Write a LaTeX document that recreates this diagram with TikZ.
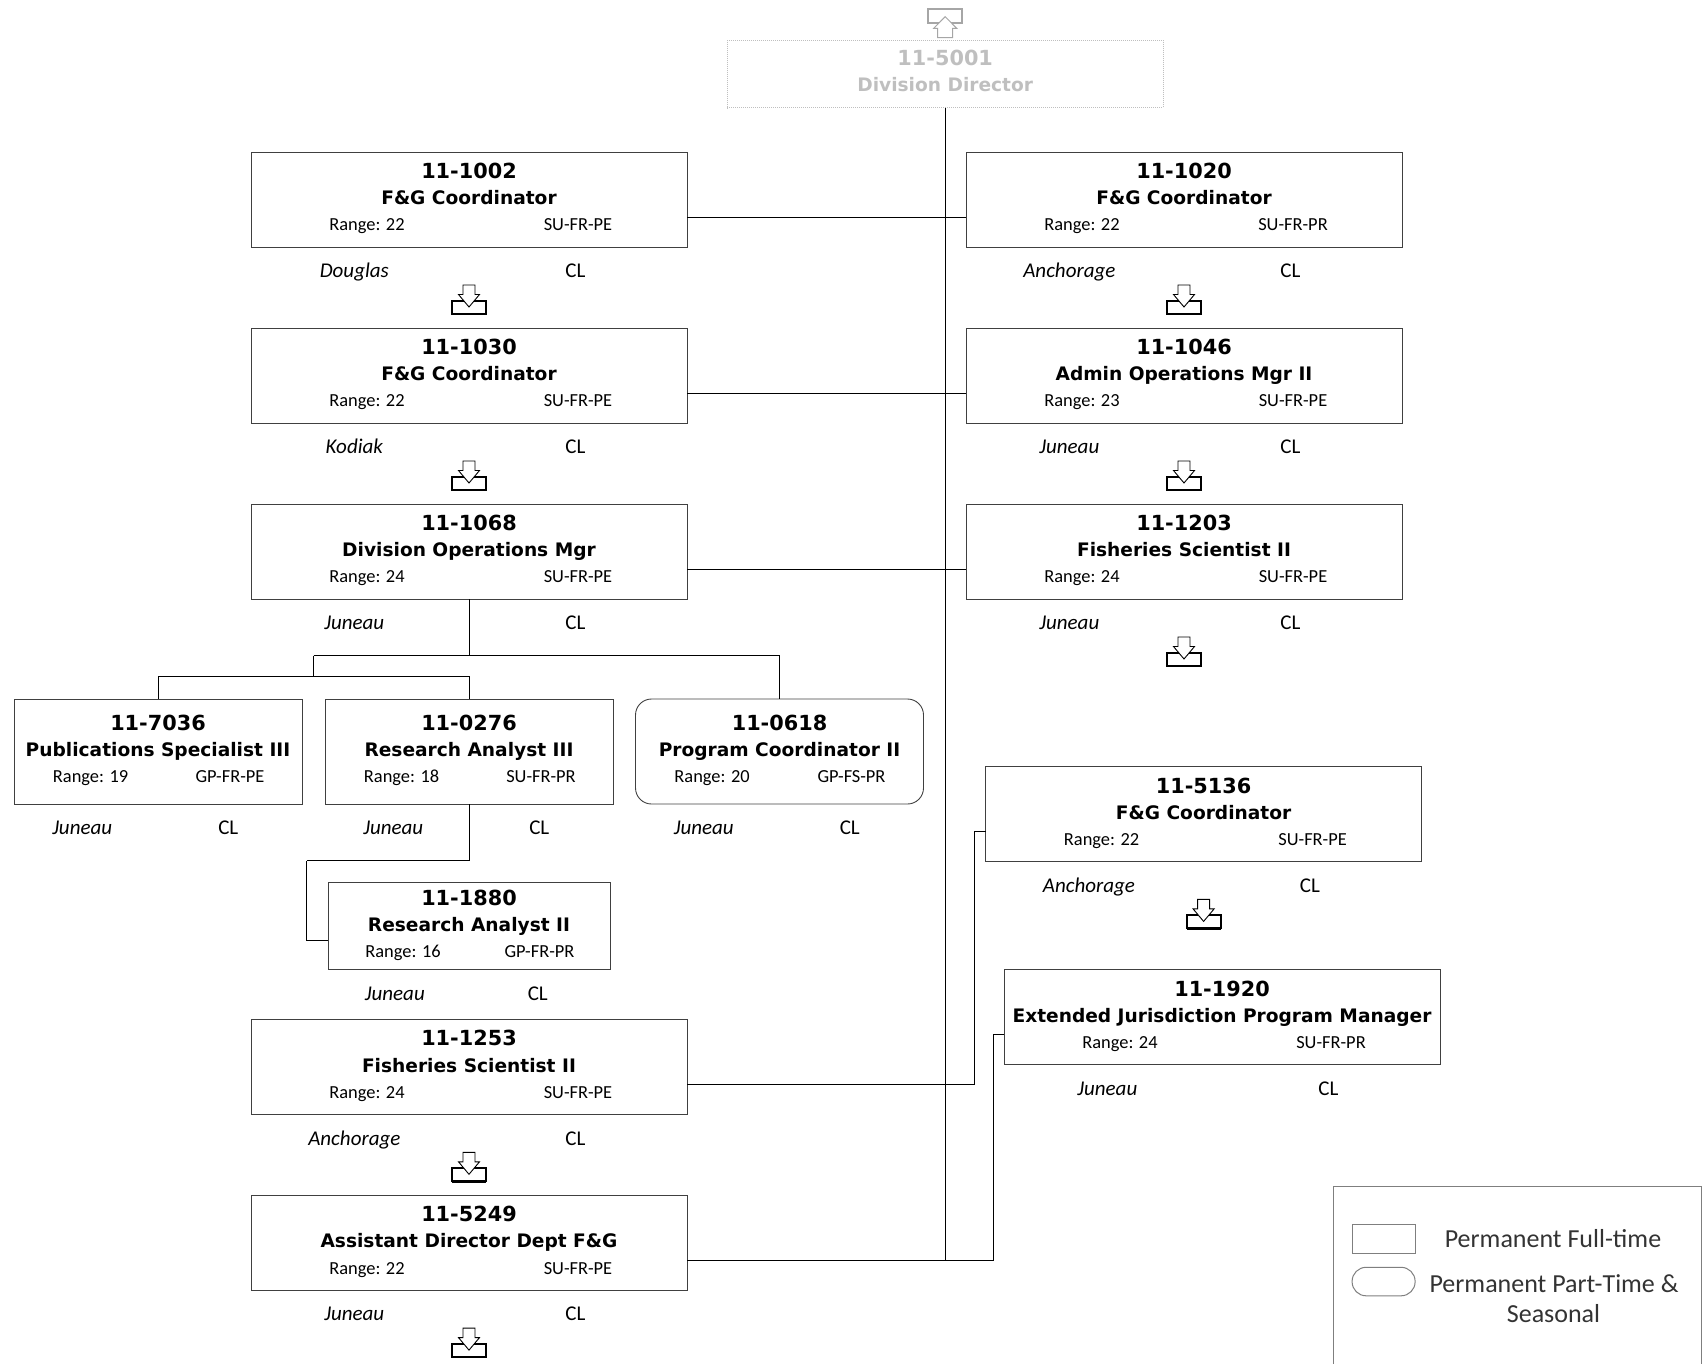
\documentclass[tikz,border=0pt]{standalone}
\usepackage{fontspec}
\setmainfont{Carlito}
\newfontfamily\dvs{DejaVu Sans}
\usetikzlibrary{calc}
\definecolor{boxgray}{HTML}{404040}
\definecolor{dirgray}{HTML}{BFBFBF}
\definecolor{icongray}{HTML}{A6A6A6}
\definecolor{leggray}{HTML}{7F7F7F}
\definecolor{legtext}{HTML}{333333}
\tikzset{
 pbox/.style={draw=boxgray, line width=0.9pt, minimum width=436pt, minimum height=95pt, inner sep=0pt, outer sep=0pt},
 sbox/.style={pbox, minimum width=288pt, minimum height=105pt},
 rbox/.style={sbox, rounded corners=16pt},
 tbox/.style={pbox, minimum width=282pt, minimum height=87pt},
 conn/.style={draw=black, line width=0.9pt},
 numtxt/.style={font=\dvs\bfseries\fontsize{20.8}{24}\selectfont, inner sep=0pt, text height=15.2pt, text depth=0pt},
 nametxt/.style={font=\dvs\bfseries\fontsize{18.6}{22}\selectfont, inner sep=0pt, text height=13.6pt, text depth=0pt},
 rangetxt/.style={font=\fontsize{18.4}{22}\selectfont, inner sep=0pt, text height=11.9pt, text depth=0pt},
 loctxt/.style={font=\itshape\fontsize{21}{25}\selectfont, inner sep=0pt, text height=13.5pt, text depth=0pt},
 cltxt/.style={font=\fontsize{21}{25}\selectfont, inner sep=0pt, text height=13.5pt, text depth=0pt},
 legtxt/.style={font=\fontsize{26}{31}\selectfont, text=legtext, inner sep=0pt, text height=16.7pt, text depth=0pt},
 downicon/.pic={
  \draw[line width=2pt] (-17,16) rectangle (17,29);
  \draw[line width=2.6pt] (-17,29) -- (17,29);
  \draw[line width=0.9pt, fill=white] (-6,0) -- (6,0) -- (6,9.5) -- (10.5,9.5) -- (0,22) -- (-10.5,9.5) -- (-6,9.5) -- cycle;
 },
 upicon/.pic={
  \draw[icongray, line width=2pt] (-17,0) rectangle (17,14);
  \draw[icongray, line width=1pt, fill=white] (-7.5,28.4) -- (7.5,28.4) -- (7.5,19) -- (11.5,19) -- (0,7.4) -- (-11.5,19) -- (-7.5,19) -- cycle;
 }
}
\newcommand\orgbox[5]{%
 \node[#2, anchor=north west] (#1) at (#3) {};
 \node[numtxt] (#1-n) at ($(#1.center)+(0,-28.5)$) {#4};
 \node[nametxt] (#1-t) at ($(#1.center)+(0,-1.5)$) {#5};}
\newcommand\orginfo[5]{%
 \node[rangetxt] (#1-r) at ($(#1.west)!0.266!(#1.east)+(0,25.5)$) {#2};
 \node[rangetxt] (#1-c) at ($(#1.west)!0.75!(#1.east)+(0,25.5)$) {#3};
 \node[loctxt] (#1-l) at ($(#1.south west)!0.237!(#1.south east)+(0,24)$) {#4};
 \node[cltxt] (#1-k) at ($(#1.south west)!0.744!(#1.south east)+(0,24)$) {#5};}
\newcommand\orgarrow[1]{\pic at ($(#1.south)+(0,38)$) {downicon};}
\begin{document}
\begin{tikzpicture}[x=1pt,y=-1pt]
\useasboundingbox (0,0) rectangle (1702,1364);
% director
\node[draw=dirgray, dash pattern=on 1pt off 1pt, line width=0.8pt, minimum width=435.6pt, minimum height=67.5pt, inner sep=0pt, anchor=north west] (dir) at (727,40) {};
\node[numtxt, text=dirgray] (dir-n) at ($(dir.center)+(0,-16.2)$) {11-5001};
\node[nametxt, text=dirgray] (dir-t) at ($(dir.center)+(0,11)$) {Division Director};
\pic at ($(dir.north)+(0,-30.7)$) {upicon};
% left column
\orgbox{b1002}{pbox}{251,152}{11-1002}{F\&G Coordinator}
\orginfo{b1002}{Range: 22}{SU-FR-PE}{Douglas}{CL}
\orgarrow{b1002}
\orgbox{b1030}{pbox}{251,328}{11-1030}{F\&G Coordinator}
\orginfo{b1030}{Range: 22}{SU-FR-PE}{Kodiak}{CL}
\orgarrow{b1030}
\orgbox{b1068}{pbox}{251,504}{11-1068}{Division Operations Mgr}
\orginfo{b1068}{Range: 24}{SU-FR-PE}{Juneau}{CL}
\orgbox{b1253}{pbox}{251,1019.3}{11-1253}{Fisheries Scientist II}
\orginfo{b1253}{Range: 24}{SU-FR-PE}{Anchorage}{CL}
\orgarrow{b1253}
\orgbox{b5249}{pbox}{251,1195.1}{11-5249}{Assistant Director Dept F\&G}
\orginfo{b5249}{Range: 22}{SU-FR-PE}{Juneau}{CL}
\orgarrow{b5249}
% right column
\orgbox{b1020}{pbox}{966,152}{11-1020}{F\&G Coordinator}
\orginfo{b1020}{Range: 22}{SU-FR-PR}{Anchorage}{CL}
\orgarrow{b1020}
\orgbox{b1046}{pbox}{966,328}{11-1046}{Admin Operations Mgr II}
\orginfo{b1046}{Range: 23}{SU-FR-PE}{Juneau}{CL}
\orgarrow{b1046}
\orgbox{b1203}{pbox}{966,504}{11-1203}{Fisheries Scientist II}
\orginfo{b1203}{Range: 24}{SU-FR-PE}{Juneau}{CL}
\orgarrow{b1203}
\orgbox{b5136}{pbox}{985.6,766.4}{11-5136}{F\&G Coordinator}
\orginfo{b5136}{Range: 22}{SU-FR-PE}{Anchorage}{CL}
\orgarrow{b5136}
\orgbox{b1920}{pbox}{1004,969.4}{11-1920}{Extended Jurisdiction Program Manager}
\orginfo{b1920}{Range: 24}{SU-FR-PR}{Juneau}{CL}
% sub row
\orgbox{b7036}{sbox}{14,699}{11-7036}{Publications Specialist III}
\orginfo{b7036}{Range: 19}{GP-FR-PE}{Juneau}{CL}
\orgbox{b0276}{sbox}{325,699}{11-0276}{Research Analyst III}
\orginfo{b0276}{Range: 18}{SU-FR-PR}{Juneau}{CL}
\orgbox{b0618}{rbox}{635.5,699}{11-0618}{Program Coordinator II}
\orginfo{b0618}{Range: 20}{GP-FS-PR}{Juneau}{CL}
\orgbox{b1880}{tbox}{328,882.5}{11-1880}{Research Analyst II}
\orginfo{b1880}{Range: 16}{GP-FR-PR}{Juneau}{CL}
% connectors
\draw[conn] (dir.south) -- ($(dir.south |- b5249.north)+(0,65)$);
\foreach \a/\b in {b1002/b1020, b1030/b1046, b1068/b1203}{
 \draw[conn] ($(\a.north east)+(0,65)$) -- ($(\b.north west)+(0,65)$);
}
\draw[conn] ($(b1253.north east)+(0,65)$) -| ($(b5136.north west)+(-11.5,65)$) -- ($(b5136.north west)+(0,65)$);
\draw[conn] ($(b5249.north east)+(0,65)$) -| ($(b1920.north west)+(-11,65)$) -- ($(b1920.north west)+(0,65)$);
\coordinate (hA) at (313.7,655.6);
\coordinate (hB) at (313.7,676.3);
\draw[conn] (b1068.south) |- (hA);
\draw[conn] (hA) -| (b0618.north);
\draw[conn] (hA) -- (hB);
\draw[conn] (hB) -| (b7036.north);
\draw[conn] (hB) -| (b0276.north);
\coordinate (cA) at (306.5,860.8);
\draw[conn] (b0276.south) |- (cA);
\draw[conn] (cA) |- ($(b1880.north west)+(0,57.5)$);
% legend
\node[draw=leggray, line width=1.1pt, minimum width=367.5pt, minimum height=220pt, inner sep=0pt, anchor=north west] (legend) at (1333,1186) {};
\node[draw=leggray, line width=1pt, minimum width=63pt, minimum height=29.5pt, inner sep=0pt, anchor=north west] (lg-rect) at (1351.6,1223.8) {};
\node[draw=leggray, line width=1pt, minimum width=63pt, minimum height=28.5pt, inner sep=0pt, rounded corners=14pt, anchor=north west] (lg-round) at (1351.6,1266.8) {};
\node[legtxt] (lg-t1) at (1553,1239.5) {Permanent Full-time};
\node[legtxt] (lg-t2) at (1554,1284) {Permanent Part-Time \&};
\node[legtxt] (lg-t3) at (1553.5,1314.5) {Seasonal};
\end{tikzpicture}
\end{document}
